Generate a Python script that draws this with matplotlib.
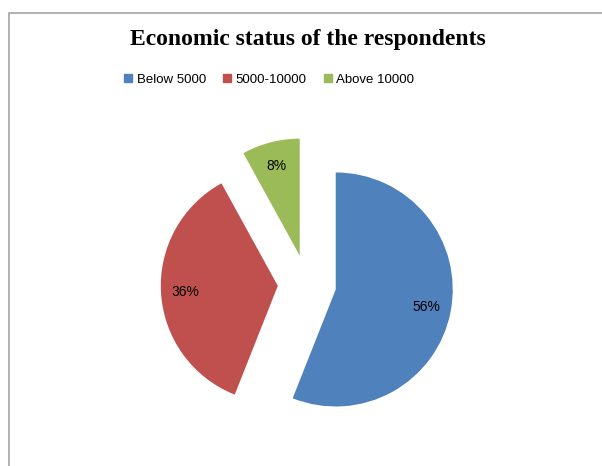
import matplotlib.pyplot as plt
from matplotlib.patches import Rectangle
from matplotlib.lines import Line2D

labels = ["Below 5000", "5000-10000", "Above 10000"]
shares = [56, 36, 8]
colors = ["#4F81BD", "#C0504D", "#9BBB59"]

fig = plt.figure(figsize=(6.02, 4.66), dpi=100)

# gray chart frame, cut at right and bottom like the screenshot
fig.patches.append(Rectangle((9 / 602, -0.1), 1.2, 1 - 13 / 466 + 0.1,
                             transform=fig.transFigure, fill=False,
                             edgecolor="#a6a6a6", lw=1.2))

ax = fig.add_axes([0, 0, 1, 1])
r_px = 117
cx, cy = 307, 284

wedges, texts, autotexts = ax.pie(
    shares, colors=colors, startangle=90, counterclock=False,
    explode=[0.25, 0.25, 0.25], autopct="%d%%", pctdistance=0.79,
    radius=1, frame=True, textprops={"fontsize": 10, "family": "Liberation Sans"})
ax.set_xlim(-cx / r_px, (602 - cx) / r_px)
ax.set_ylim(-(466 - cy) / r_px, cy / r_px)
ax.axis("off")

fig.text(0.512, 1 - 40 / 466, "Economic status of the respondents",
         ha="center", va="center", fontsize=17, fontweight="bold",
         family="Liberation Serif")

handles = [Line2D([], [], marker="s", ls="", color=c, markersize=5.5) for c in colors]
fig.legend(handles, labels, loc="center", bbox_to_anchor=(0.447, 1 - 80 / 466),
           ncol=3, frameon=False, prop={"family": "Liberation Sans", "size": 9.5},
           handlelength=0.6, handletextpad=0.35, columnspacing=1.3)

fig.savefig("out.png", dpi=100)
